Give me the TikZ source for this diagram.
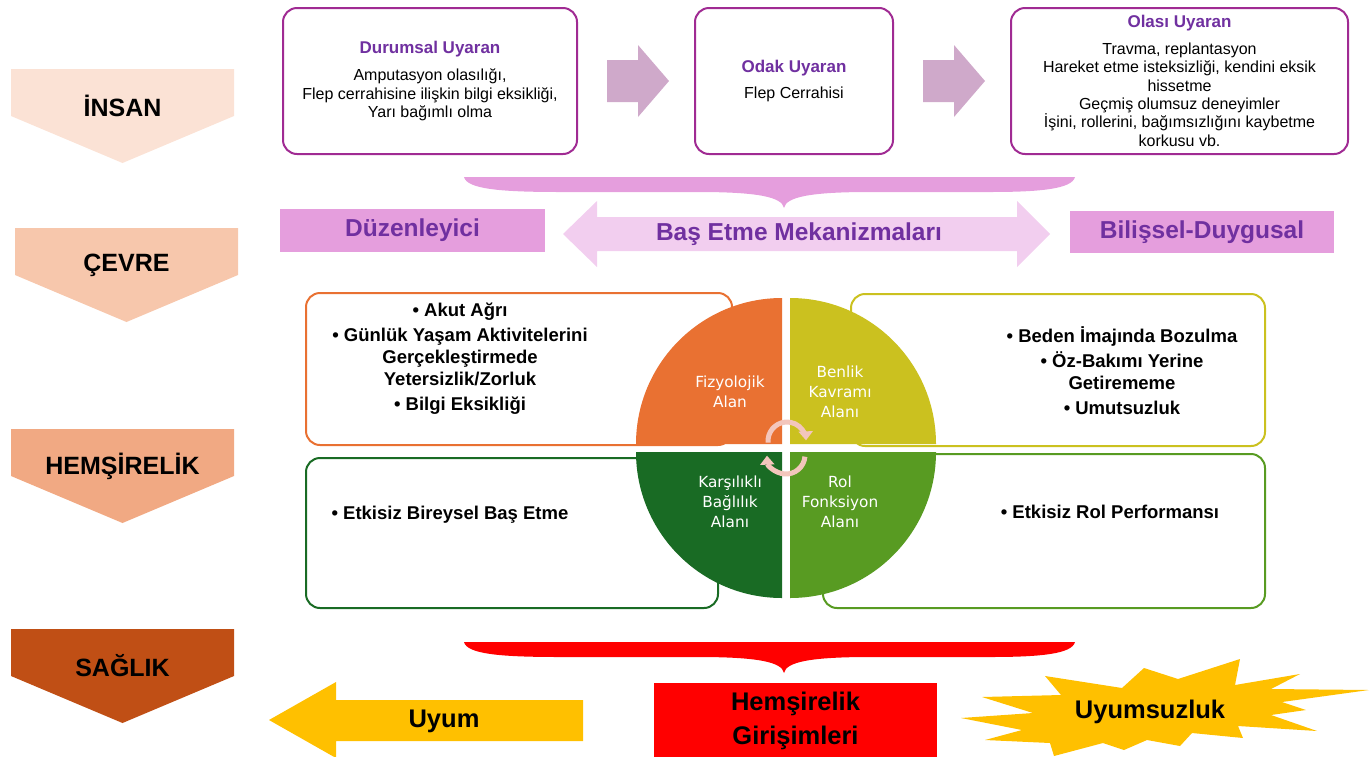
\documentclass[tikz,border=0pt]{standalone}
\usepackage{fontspec}
\setmainfont{Liberation Sans}
\newfontfamily\quadfont{DejaVu Sans}
\usepackage{xcolor}
\usepackage{tikz}
\usetikzlibrary{arrows.meta,positioning,calc}
\definecolor{peachone}{HTML}{FBE2D5}
\definecolor{peachtwo}{HTML}{F7C7AC}
\definecolor{peachthree}{HTML}{F1A983}
\definecolor{rust}{HTML}{C04F15}
\definecolor{plumline}{HTML}{A02B93}
\definecolor{stimtitle}{HTML}{7030A0}
\definecolor{mauve}{HTML}{CFA9CA}
\definecolor{orchid}{HTML}{E59EDD}
\definecolor{lilac}{HTML}{F2CEEF}
\definecolor{fizorange}{HTML}{E97132}
\definecolor{benyellow}{HTML}{CBC11F}
\definecolor{kargreen}{HTML}{196B24}
\definecolor{rolgreen}{HTML}{589B22}
\definecolor{alarmred}{HTML}{FF0000}
\definecolor{amber}{HTML}{FFC000}
\definecolor{cyclepink}{HTML}{F3C6BC}

\tikzset{
  stimbox/.style={draw=plumline,line width=2pt,rounded corners=14pt,fill=white,
    align=center,font=\fontsize{16}{18.4}\selectfont},
  areabox/.style={draw=#1,line width=2pt,rounded corners=14pt,fill=white},
  chevlabel/.style={font=\bfseries\fontsize{25}{30}\selectfont},
  bulletlist/.style={align=center,font=\bfseries\fontsize{18.5}{22}\selectfont},
  quadlabel/.style={text=white,align=center,font=\quadfont\fontsize{15.3}{20}\selectfont},
  bandlabel/.style={text=stimtitle,font=\bfseries\fontsize{24.5}{30}\selectfont},
  outlabel/.style={align=center,font=\bfseries\fontsize{25.5}{34}\selectfont},
  cyclearrow/.style={draw=cyclepink,line width=5pt,-{Triangle[length=9pt,width=14pt]}}
}

\begin{document}
\begin{tikzpicture}[x=1pt,y=-1pt]
  \useasboundingbox (0,0) rectangle (1370,756);

  % left column
  \foreach \nm/\lbl/\col/\xl/\top in {insan/İNSAN/peachone/11/69,cevre/ÇEVRE/peachtwo/15/228,
      hemsirelik/HEMŞİRELİK/peachthree/11/429,saglik/SAĞLIK/rust/11/629} {
    \fill[\col] (\xl,\top) -- ++(223,0) -- ++(0,47) -- ++(-111.5,47) -- ++(-111.5,-47) -- cycle;
    \node[chevlabel] (\nm) at (\xl+111.5,\top+37) {\lbl};
  }

  % stimuli
  \node[stimbox,minimum width=294pt,minimum height=146pt] (durumsal) at (430,81) {%
    {\color{stimtitle}\bfseries\fontsize{17}{20}\selectfont Durumsal Uyaran}\\[9pt]
    Amputasyon olasılığı,\\
    Flep cerrahisine ilişkin bilgi eksikliği,\\
    Yarı bağımlı olma};
  \node[stimbox,minimum width=198pt,minimum height=146pt] (odak) at (794,81) {%
    {\color{stimtitle}\bfseries\fontsize{17}{20}\selectfont Odak Uyaran}\\[7pt]
    Flep Cerrahisi};
  \node[stimbox,minimum width=337pt,minimum height=146pt] (olasi) at (1179.5,81) {%
    {\color{stimtitle}\bfseries\fontsize{17}{20}\selectfont Olası Uyaran}\\[8pt]
    Travma, replantasyon\\
    Hareket etme isteksizliği, kendini eksik\\
    hissetme\\
    Geçmiş olumsuz deneyimler\\
    İşini, rollerini, bağımsızlığını kaybetme\\
    korkusu vb.};
  \foreach \src in {durumsal,odak}
    \fill[mauve] ($(\src.east)+(29,-21)$) -- ++(31,0) -- ++(0,-15) -- ++(31,36)
      -- ++(-31,36) -- ++(0,-15) -- ++(-31,0) -- cycle;

  % braces
  \foreach \yy/\col in {177/orchid,642/alarmred}
    \fill[\col] (464,\yy) -- (1075,\yy) .. controls (1072,\yy+12) and (1040,\yy+15) .. (990,\yy+15)
      -- (870,\yy+15) .. controls (810,\yy+15) and (786,\yy+20) .. (784,\yy+31)
      .. controls (782,\yy+20) and (758,\yy+15) .. (698,\yy+15) -- (560,\yy+15)
      .. controls (500,\yy+15) and (467,\yy+12) .. (464,\yy) -- cycle;

  % coping
  \node[fill=orchid,minimum width=265pt,minimum height=43pt,bandlabel] (duzenleyici) at (412.5,230.5) {Düzenleyici};
  \node[fill=orchid,minimum width=264pt,minimum height=42pt,bandlabel] (bilissel) at (1202,232) {Bilişsel-Duygusal};
  \fill[lilac] (563,234) -- (597,201) -- (597,217) -- (1017,217) -- (1017,201) -- (1050,234)
    -- (1017,267) -- (1017,251) -- (597,251) -- (597,267) -- cycle;
  \node[bandlabel] (basetme) at (799,234) {Baş Etme Mekanizmaları};

  % adaptive areas
  \node[areabox=fizorange,minimum width=426pt,minimum height=152pt] (fizbox) at (519,369) {};
  \node[areabox=benyellow,minimum width=414pt,minimum height=152pt] (benbox) at (1058,370) {};
  \node[areabox=kargreen,minimum width=412pt,minimum height=150pt] (karbox) at (512,533) {};
  \node[areabox=rolgreen,minimum width=442pt,minimum height=154pt] (rolbox) at (1044,531) {};
  \node[bulletlist] (fiztxt) at (460,359) {• Akut Ağrı\\[3pt]
    • Günlük Yaşam Aktivitelerini\\Gerçekleştirmede\\Yetersizlik/Zorluk\\[3pt]
    • Bilgi Eksikliği};
  \node[bulletlist] (bentxt) at (1122,371) {• Beden İmajında Bozulma\\[3pt]
    • Öz-Bakımı Yerine\\Getirememe\\[3pt]• Umutsuzluk};
  \node[bulletlist] (kartxt) at (450,515) {• Etkisiz Bireysel Baş Etme};
  \node[bulletlist] (roltxt) at (1110,512) {• Etkisiz Rol Performansı};

  \fill[fizorange] (782,444) -- ++(-146,0) arc[start angle=180,end angle=270,radius=146] -- cycle;
  \fill[benyellow] (790,444) -- ++(0,-146) arc[start angle=270,end angle=360,radius=146] -- cycle;
  \fill[kargreen] (782,452) -- ++(0,146) arc[start angle=90,end angle=180,radius=146] -- cycle;
  \fill[rolgreen] (790,452) -- ++(146,0) arc[start angle=0,end angle=90,radius=146] -- cycle;
  \node[quadlabel] (fizq) at (730,392) {Fizyolojik\\Alan};
  \node[quadlabel] (benq) at (840,392) {Benlik\\Kavramı\\Alanı};
  \node[quadlabel] (karq) at (730,502) {Karşılıklı\\Bağlılık\\Alanı};
  \node[quadlabel] (rolq) at (840,502) {Rol\\Fonksiyon\\Alanı};
  \draw[cyclearrow] (787,441) ++(175:19) arc[start angle=175,end angle=358,radius=19];
  \draw[cyclearrow] (786,455) ++(5:19) arc[start angle=5,end angle=178,radius=19];

  % outcomes
  \fill[amber] (269,720) -- (336,682) -- (336,700) -- (583,700) -- (583,741) -- (336,741)
    -- (336,758) -- cycle;
  \node[outlabel] (uyum) at (444,721) {Uyum};
  \node[fill=alarmred,minimum width=283pt,minimum height=75pt,outlabel] (girisim) at (795.5,720.5)
    {Hemşirelik\\Girişimleri};
  \fill[amber] (1045,676) -- (1122,688) -- (1144,668) -- (1178,679) -- (1240,659) -- (1235,685)
    -- (1300,674) -- (1271,689) -- (1369,690) -- (1282,702) -- (1306,710) -- (1271,715)
    -- (1317,731) -- (1238,726) -- (1243,738) -- (1192,733) -- (1180,746) -- (1147,740)
    -- (1124,750) -- (1103,743) -- (1054,756) -- (1050,743) -- (985,740) -- (1022,730)
    -- (961,718) -- (1033,713) -- (982,697) -- (1061,695) -- cycle;
  \node[outlabel] (uyumsuz) at (1150,712) {Uyumsuzluk};
\end{tikzpicture}
\end{document}
